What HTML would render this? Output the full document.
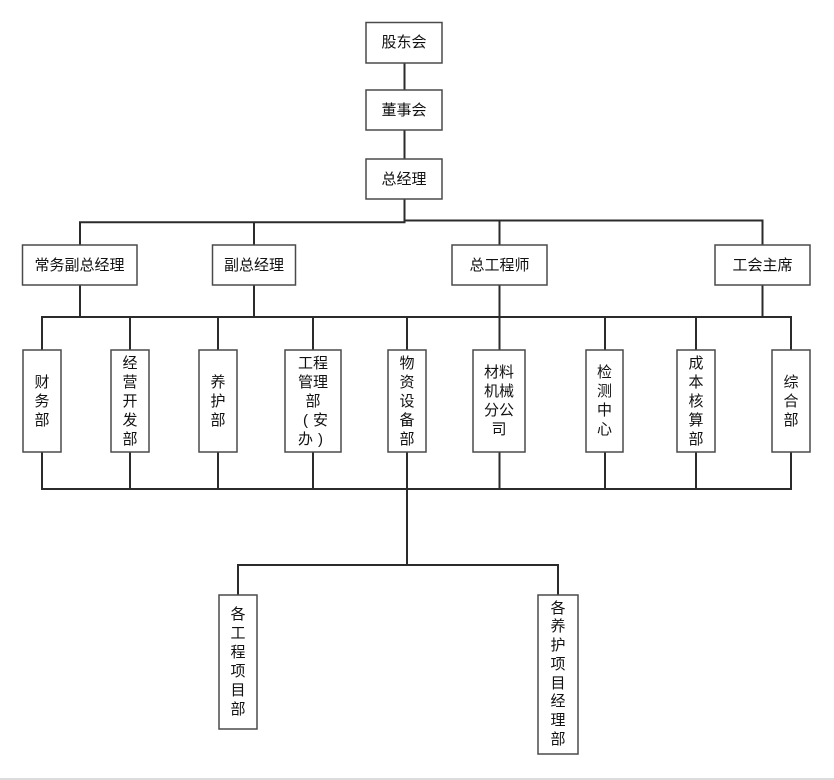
<!DOCTYPE html>
<html>
<head>
<meta charset="utf-8">
<style>
html,body{margin:0;padding:0;background:#fff;}
#wrap{position:relative;width:834px;height:780px;overflow:hidden;background:#fff;}
svg{position:absolute;left:0;top:0;}
.b{position:absolute;display:flex;align-items:center;justify-content:center;text-align:center;
font-family:"Liberation Sans","Noto Sans CJK SC",sans-serif;font-size:15px;line-height:19px;color:#111;box-sizing:border-box;}
.c{display:inline-block;width:15px;text-align:center;}
</style>
</head>
<body>
<div id="wrap">
<svg width="834" height="780" viewBox="0 0 834 780">
  <g stroke="#2b2b2b" stroke-width="2" fill="none">
    <line x1="404.5" y1="63" x2="404.5" y2="90"/>
    <line x1="404.5" y1="130" x2="404.5" y2="159"/>
    <line x1="404.5" y1="199" x2="404.5" y2="223"/>
    <line x1="79" y1="222.3" x2="405.5" y2="222.3"/>
    <line x1="403.5" y1="220.5" x2="763" y2="220.5"/>
    <line x1="80" y1="222" x2="80" y2="245"/>
    <line x1="254" y1="222" x2="254" y2="245"/>
    <line x1="499.5" y1="220" x2="499.5" y2="245"/>
    <line x1="762.5" y1="219.5" x2="762.5" y2="245"/>
    <line x1="80" y1="285" x2="80" y2="317"/>
    <line x1="254" y1="285" x2="254" y2="317"/>
    <line x1="499.5" y1="285" x2="499.5" y2="317"/>
    <line x1="762.5" y1="285" x2="762.5" y2="317"/>
    <line x1="41" y1="317" x2="792" y2="317"/>
    <line x1="42" y1="316" x2="42" y2="350"/>
    <line x1="130" y1="317" x2="130" y2="350"/>
    <line x1="218" y1="317" x2="218" y2="350"/>
    <line x1="313" y1="317" x2="313" y2="350"/>
    <line x1="407" y1="317" x2="407" y2="350"/>
    <line x1="499.5" y1="317" x2="499.5" y2="350"/>
    <line x1="605" y1="317" x2="605" y2="350"/>
    <line x1="696" y1="317" x2="696" y2="350"/>
    <line x1="791" y1="316" x2="791" y2="350"/>
    <line x1="42" y1="452" x2="42" y2="490"/>
    <line x1="130" y1="452" x2="130" y2="489"/>
    <line x1="218" y1="452" x2="218" y2="489"/>
    <line x1="313" y1="452" x2="313" y2="489"/>
    <line x1="407" y1="452" x2="407" y2="489"/>
    <line x1="499.5" y1="452" x2="499.5" y2="489"/>
    <line x1="605" y1="452" x2="605" y2="489"/>
    <line x1="696" y1="452" x2="696" y2="489"/>
    <line x1="791" y1="452" x2="791" y2="490"/>
    <line x1="41" y1="489" x2="792" y2="489"/>
    <line x1="407" y1="489" x2="407" y2="566"/>
    <line x1="237" y1="565" x2="559" y2="565"/>
    <line x1="238" y1="564" x2="238" y2="595"/>
    <line x1="558" y1="564" x2="558" y2="595"/>
  </g>
  <g stroke="#4a4a4a" stroke-width="1.5" fill="#fff">
    <rect x="366" y="22.5" width="76" height="40.5"/>
    <rect x="366" y="90" width="76" height="40"/>
    <rect x="366" y="159" width="76" height="40"/>
    <rect x="22.5" y="245" width="114.5" height="40"/>
    <rect x="212.5" y="245" width="83" height="40"/>
    <rect x="452" y="245" width="95" height="40"/>
    <rect x="715" y="245" width="95" height="40"/>
    <rect x="23" y="350" width="38" height="102"/>
    <rect x="111" y="350" width="38" height="102"/>
    <rect x="199" y="350" width="38" height="102"/>
    <rect x="285" y="350" width="56" height="102"/>
    <rect x="388" y="350" width="38" height="102"/>
    <rect x="473" y="350" width="52" height="102"/>
    <rect x="586" y="350" width="37" height="102"/>
    <rect x="677" y="350" width="38" height="102"/>
    <rect x="772" y="350" width="38" height="102"/>
    <rect x="219" y="595" width="38" height="134"/>
    <rect x="538" y="595" width="40" height="159"/>
  </g>
  <line x1="0" y1="779" x2="834" y2="779" stroke="#dcdcdc" stroke-width="2"/>
</svg>

<div class="b" style="left:366px;top:22px;width:76px;height:41px;">股东会</div>
<div class="b" style="left:366px;top:90px;width:76px;height:40px;">董事会</div>
<div class="b" style="left:366px;top:159px;width:76px;height:40px;">总经理</div>

<div class="b" style="left:22px;top:245px;width:115px;height:40px;">常务副总经理</div>
<div class="b" style="left:212px;top:245px;width:84px;height:40px;">副总经理</div>
<div class="b" style="left:452px;top:245px;width:95px;height:40px;">总工程师</div>
<div class="b" style="left:715px;top:245px;width:95px;height:40px;">工会主席</div>

<div class="b" style="left:23px;top:350px;width:38px;height:102px;">财<br>务<br>部</div>
<div class="b" style="left:111px;top:350px;width:38px;height:102px;">经<br>营<br>开<br>发<br>部</div>
<div class="b" style="left:199px;top:350px;width:38px;height:102px;">养<br>护<br>部</div>
<div class="b" style="left:285px;top:350px;width:56px;height:102px;"><div>工程<br>管理<br>部<br><span class="c">(</span><span class="c">安</span><br><span class="c">办</span><span class="c">)</span></div></div>
<div class="b" style="left:388px;top:350px;width:38px;height:102px;">物<br>资<br>设<br>备<br>部</div>
<div class="b" style="left:473px;top:350px;width:52px;height:102px;">材料<br>机械<br>分公<br>司</div>
<div class="b" style="left:586px;top:350px;width:37px;height:102px;">检<br>测<br>中<br>心</div>
<div class="b" style="left:677px;top:350px;width:38px;height:102px;">成<br>本<br>核<br>算<br>部</div>
<div class="b" style="left:772px;top:350px;width:38px;height:102px;">综<br>合<br>部</div>

<div class="b" style="left:219px;top:595px;width:38px;height:134px;">各<br>工<br>程<br>项<br>目<br>部</div>
<div class="b" style="left:538px;top:595px;width:40px;height:159px;line-height:18.7px;">各<br>养<br>护<br>项<br>目<br>经<br>理<br>部</div>
</div>
</body>
</html>
